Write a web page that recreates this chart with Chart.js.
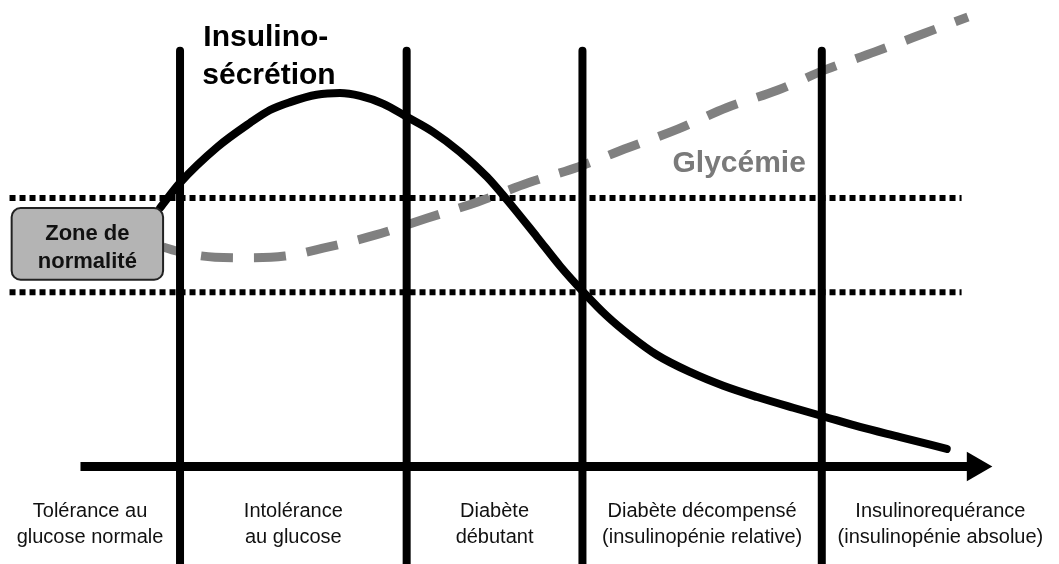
<!DOCTYPE html>
<html>
<head>
<meta charset="utf-8">
<script src="https://cdn.jsdelivr.net/npm/chart.js@4/dist/chart.umd.min.js"></script>
<style>
  body { margin: 0; background: #fff; }
  canvas { display: block; }
</style>
</head>
<body>
<canvas id="chart" width="1059" height="564"></canvas>
<script>
// Stage boundaries along the progression axis (0 - 100)
const stageBounds = [17.0, 38.4, 55.0, 77.6];
const stageLabels = [
  ["Tolérance au", "glucose normale"],
  ["Intolérance", "au glucose"],
  ["Diabète", "débutant"],
  ["Diabète décompensé", "(insulinopénie relative)"],
  ["Insulinorequérance", "(insulinopénie absolue)"],
];

// Insulin secretion curve
const insulinX = [15.1, 17.0, 20.5, 23.6, 25.5, 27.4, 29.9, 32.1, 34.0, 36.2, 38.4, 40.9, 43.4, 46.0, 47.9, 50.7, 52.9, 55.1, 57.3, 59.5, 62.0, 65.2, 68.3, 71.5, 74.9, 77.7, 81.2, 85.0, 89.4];
const insulinY = [63.1, 67.6, 73.9, 78.2, 80.5, 81.9, 83.2, 83.5, 83.0, 81.6, 79.3, 76.6, 73.1, 68.6, 64.5, 58.0, 52.8, 48.2, 44.0, 40.5, 37.1, 34.0, 31.6, 29.6, 27.7, 26.2, 24.3, 22.5, 20.4];

// Glycemia curve
const glycemiaX = [15.4, 17.0, 20.3, 23.6, 26.9, 30.5, 35.4, 40.3, 45.1, 49.9, 54.6, 59.3, 64.0, 68.6, 73.4, 77.9, 82.6, 87.3, 91.4];
const glycemiaY = [56.2, 55.3, 54.4, 54.3, 54.6, 56.0, 58.3, 61.3, 64.2, 67.6, 70.4, 73.8, 77.1, 80.9, 84.0, 87.6, 90.8, 94.1, 97.0];

// Normal zone (lower / upper limit) and its x extent
const normalZone = [48.2, 64.9];
const zoneExtent = [0.9, 90.8];

// Time axis
const axisLevel = 17.3;
const axisExtent = [7.6, 92.1];
const stageTop = 91.0;

const toPoints = (xs, ys) => xs.map((x, i) => ({ x: x, y: ys[i] }));

const FONT = '"Liberation Sans", Arial, Helvetica, sans-serif';

// Stage boundary lines
const stageDatasets = stageBounds.map((b) => ({
  data: [
    { x: b, y: stageTop },
    { x: b, y: 0 },
  ],
  borderColor: "#000",
  borderWidth: 8,
  borderCapStyle: "round",
  pointRadius: 0,
  order: 1,
}));

// Normal zone dotted lines
const zoneDatasets = normalZone.map((lvl) => ({
  data: [
    { x: zoneExtent[0], y: lvl },
    { x: zoneExtent[1], y: lvl },
  ],
  borderColor: "#000",
  borderWidth: 6,
  borderDash: [6, 4],
  pointRadius: 0,
  order: 4,
}));

// Labels, box and titles
const labelsPlugin = {
  id: "labels",
  afterDatasetsDraw(chart) {
    const ctx = chart.ctx;
    const xs = chart.scales.x;
    const ys = chart.scales.y;
    ctx.save();

    // Zone de normalité box
    const bx = xs.getPixelForValue(1.1);
    const bx2 = xs.getPixelForValue(15.4);
    const by = ys.getPixelForValue(63.1);
    const by2 = ys.getPixelForValue(50.4);
    ctx.beginPath();
    ctx.roundRect(bx, by, bx2 - bx, by2 - by, 9);
    ctx.fillStyle = "#b4b4b4";
    ctx.fill();
    ctx.lineWidth = 2;
    ctx.strokeStyle = "#222";
    ctx.stroke();

    ctx.fillStyle = "#111";
    ctx.textAlign = "center";
    ctx.textBaseline = "alphabetic";
    ctx.font = "bold 22px " + FONT;
    const bcx = (bx + bx2) / 2;
    ctx.fillText("Zone de", bcx, by + 32);
    ctx.fillText("normalité", bcx, by + 60);

    // Stage labels
    const bounds = [0, ...stageBounds, 100];
    const axisY = ys.getPixelForValue(axisLevel);
    ctx.font = "20px " + FONT;
    stageLabels.forEach((lines, i) => {
      const cx = xs.getPixelForValue((bounds[i] + bounds[i + 1]) / 2);
      lines.forEach((t, j) => {
        ctx.fillText(t, cx, axisY + 51 + j * 26);
      });
    });

    // Curve titles
    ctx.textAlign = "left";
    ctx.font = "bold 30px " + FONT;
    ctx.fillStyle = "#000";
    ctx.fillText("Insulino-", xs.getPixelForValue(19.2), ys.getPixelForValue(91.8));
    ctx.fillText("sécrétion", xs.getPixelForValue(19.1), ys.getPixelForValue(85.1));
    ctx.fillStyle = "#7a7a7a";
    ctx.fillText("Glycémie", xs.getPixelForValue(63.5), ys.getPixelForValue(69.5));

    ctx.restore();
  },
};

new Chart(document.getElementById("chart"), {
  type: "line",
  data: {
    datasets: [
      {
        label: "Insulino-sécrétion",
        data: toPoints(insulinX, insulinY),
        borderColor: "#000",
        borderWidth: 8,
        borderCapStyle: "round",
        borderJoinStyle: "round",
        cubicInterpolationMode: "monotone",
        pointRadius: 0,
        order: 2,
      },
      {
        label: "Glycémie",
        data: toPoints(glycemiaX, glycemiaY),
        borderColor: "#808080",
        borderWidth: 9,
        borderDash: [32, 21],
        borderDashOffset: 14,
        cubicInterpolationMode: "monotone",
        pointRadius: 0,
        order: 3,
      },
      ...stageDatasets,
      ...zoneDatasets,
      {
        // time axis
        data: [
          { x: axisExtent[0], y: axisLevel },
          { x: axisExtent[1], y: axisLevel },
        ],
        borderColor: "#000",
        borderWidth: 9,
        pointRadius: [0, 17],
        pointStyle: "triangle",
        pointRotation: 90,
        pointBackgroundColor: "#000",
        pointBorderWidth: 0,
        order: 1,
      },
    ],
  },
  options: {
    responsive: false,
    animation: false,
    events: [],
    layout: { padding: 0, autoPadding: false },
    plugins: {
      legend: { display: false },
      tooltip: { enabled: false },
    },
    scales: {
      x: { type: "linear", min: 0, max: 100, display: false },
      y: { type: "linear", min: 0, max: 100, display: false },
    },
  },
  plugins: [labelsPlugin],
});
</script>
</body>
</html>
